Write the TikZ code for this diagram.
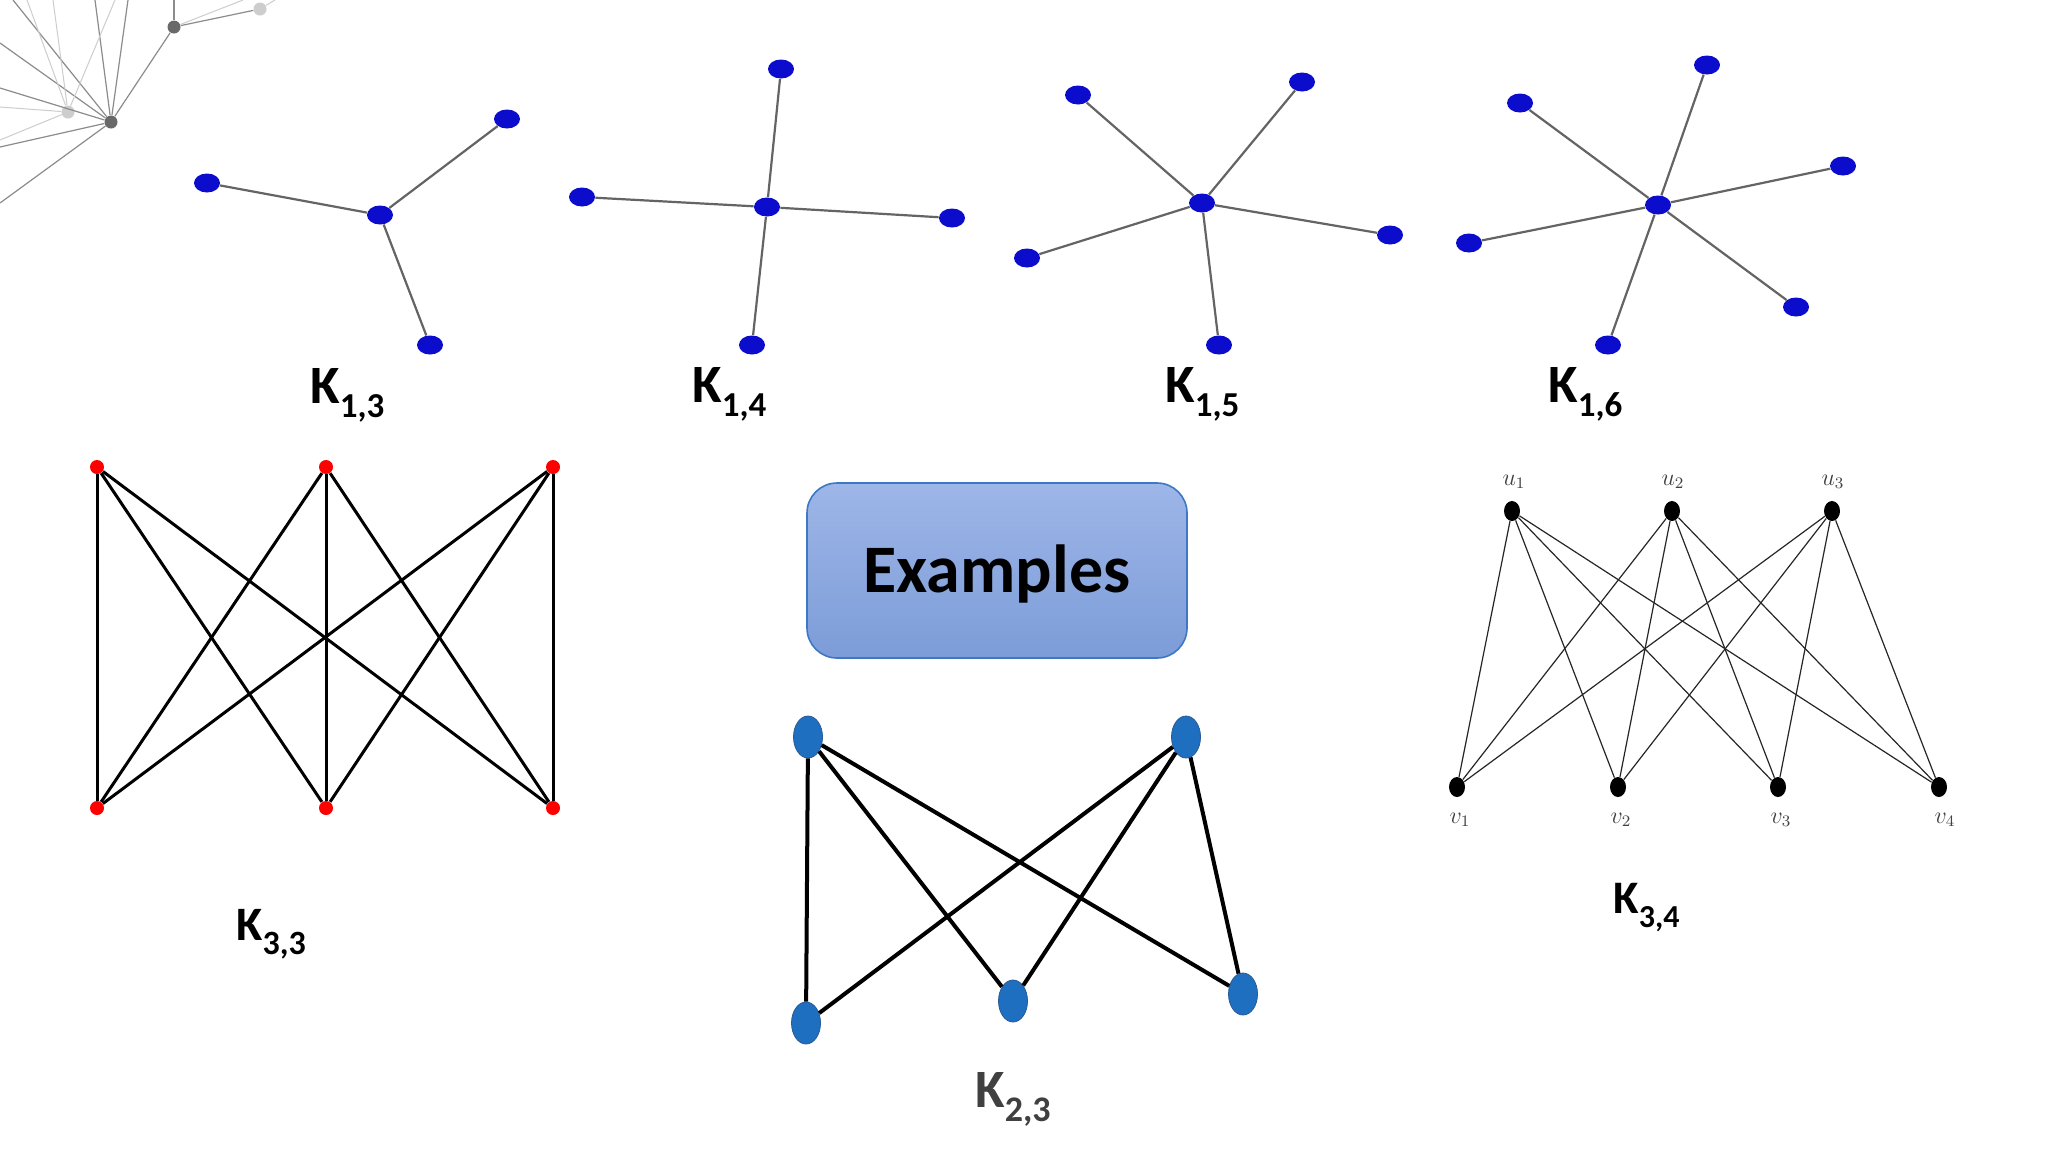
\documentclass[tikz,border=0pt]{standalone}
\usepackage{fontspec}
\setmainfont{Carlito}
\usetikzlibrary{shapes.geometric}
\definecolor{starblue}{RGB}{12,12,205}
\definecolor{edgegray}{RGB}{100,100,100}
\definecolor{kblue}{RGB}{31,111,192}
\definecolor{kblueborder}{RGB}{40,90,150}
\definecolor{boxtop}{RGB}{158,182,232}
\definecolor{boxbot}{RGB}{124,156,216}
\definecolor{boxborder}{RGB}{62,120,196}
\definecolor{netdark}{RGB}{105,105,105}
\definecolor{netlight}{RGB}{205,205,205}
\definecolor{netline}{RGB}{140,140,140}
\definecolor{netfaint}{RGB}{205,205,205}
\newcommand{\Klab}[4]{\fontsize{#1}{#1}\selectfont K\raisebox{-#4}{\fontsize{#2}{#2}\selectfont #3}}
\tikzset{
  starnode/.style={ellipse, fill=starblue, inner sep=0pt, minimum width=13pt, minimum height=9.5pt},
  staredge/.style={draw=edgegray, line width=1.1pt},
  rednode/.style={circle, fill=red, inner sep=0pt, minimum size=7pt},
  kthreeedge/.style={draw=black, line width=1.5pt},
  bluenode/.style={ellipse, fill=kblue, draw=kblueborder, line width=0.4pt, inner sep=0pt, minimum width=14.5pt, minimum height=21pt},
  ktwoedge/.style={draw=black, line width=2pt},
  blacknode/.style={ellipse, fill=black, inner sep=0pt, minimum width=8pt, minimum height=10pt},
  kfouredge/.style={draw=black!85, line width=0.6pt},
  vlabel/.style={font=\fontsize{11.5}{12}\selectfont, text=black!75, inner sep=0pt},
  klab/.style={anchor=base west, inner sep=0pt, font=\bfseries},
  exbox/.style={rounded corners=15pt, top color=boxtop, bottom color=boxbot, draw=boxborder, line width=0.8pt,
    minimum width=190pt, minimum height=87.5pt, inner sep=0pt,
    font=\fontsize{34}{40}\selectfont\bfseries, text height=22pt, text depth=0pt},
  netnodedark/.style={circle, fill=netdark, inner sep=0pt, minimum size=6.5pt},
  netnodelight/.style={circle, fill=netlight, inner sep=0pt, minimum size=6.5pt},
  netedge/.style={draw=netline, line width=0.6pt},
  netedgefaint/.style={draw=netfaint, line width=0.5pt}
}
\begin{document}
\begin{tikzpicture}[x=0.5pt, y=-0.5pt]
\useasboundingbox (0,0) rectangle (2048,1152);
\fill[white] (0,0) rectangle (2048,1152);

% ---- grey network fragment (top-left) ----
\node[netnodedark] (nA) at (111,122) {};
\node[netnodedark] (nB) at (174,27) {};
\node[netnodelight] (nC) at (68,112) {};
\node[netnodelight] (nD) at (260,9) {};
\coordinate (e1) at (0,203);
\coordinate (e2) at (0,147);
\coordinate (e3) at (0,88);
\coordinate (e4) at (0,43);
\coordinate (e5) at (13,0);
\coordinate (e6) at (95,0);
\coordinate (e7) at (128,0);
\coordinate (e8) at (174,0);
\coordinate (e9) at (243,0);
\coordinate (f1) at (0,107);
\coordinate (f2) at (53,0);
\coordinate (f3) at (115,0);
\coordinate (f4) at (27,0);
\coordinate (f5) at (0,140);
\coordinate (f6) at (275,0);
\foreach \e in {e1,e2,e3,e4,e5,e6,e7} \draw[netedge] (nA) -- (\e);
\draw[netedge] (nA) -- (nB);
\draw[netedge] (nB) -- (e8);
\draw[netedge] (nB) -- (nD);
\draw[netedgefaint] (nB) -- (e9);
\foreach \e in {f1,f2,f3,f4,f5} \draw[netedgefaint] (nC) -- (\e);
\draw[netedgefaint] (nD) -- (f6);

% ---- K1,3 ----
\node[starnode] (c13) at (380,215) {};
\node[starnode] (a13) at (207,183) {};
\node[starnode] (b13) at (507,119) {};
\node[starnode] (d13) at (430,345) {};
\foreach \n in {a13,b13,d13} \draw[staredge] (c13) -- (\n);
\node[klab] (l13) at (310,403) {\Klab{27}{17.5}{1,3}{7pt}};

% ---- K1,4 ----
\node[starnode] (c14) at (767,207) {};
\node[starnode] (a14) at (781,69) {};
\node[starnode] (b14) at (582,197) {};
\node[starnode] (d14) at (952,218) {};
\node[starnode] (g14) at (752,345) {};
\foreach \n in {a14,b14,d14,g14} \draw[staredge] (c14) -- (\n);
\node[klab] (l14) at (692,402) {\Klab{27}{17.5}{1,4}{7pt}};

% ---- K1,5 ----
\node[starnode] (c15) at (1202,203) {};
\node[starnode] (a15) at (1078,95) {};
\node[starnode] (b15) at (1302,82) {};
\node[starnode] (d15) at (1390,235) {};
\node[starnode] (g15) at (1027,258) {};
\node[starnode] (h15) at (1219,345) {};
\foreach \n in {a15,b15,d15,g15,h15} \draw[staredge] (c15) -- (\n);
\node[klab] (l15) at (1165,402) {\Klab{27}{17.5}{1,5}{7pt}};

% ---- K1,6 ----
\node[starnode] (c16) at (1658,205) {};
\node[starnode] (a16) at (1707,65) {};
\node[starnode] (b16) at (1520,103) {};
\node[starnode] (d16) at (1843,166) {};
\node[starnode] (g16) at (1469,243) {};
\node[starnode] (h16) at (1796,307) {};
\node[starnode] (i16) at (1608,345) {};
\foreach \n in {a16,b16,d16,g16,h16,i16} \draw[staredge] (c16) -- (\n);
\node[klab] (l16) at (1548,402) {\Klab{27}{17.5}{1,6}{7pt}};

% ---- K3,3 ----
\node[rednode] (t1) at (97,467) {};
\node[rednode] (t2) at (326,467) {};
\node[rednode] (t3) at (553,467) {};
\node[rednode] (s1) at (97,808) {};
\node[rednode] (s2) at (326,808) {};
\node[rednode] (s3) at (553,808) {};
\foreach \t in {t1,t2,t3} \foreach \s in {s1,s2,s3} \draw[kthreeedge] (\t) -- (\s);
\node[klab] (l33) at (236,940) {\Klab{24}{17}{3,3}{7pt}};

% ---- Examples box ----
\node[exbox] (ex) at (997,570.5) {Examples};

% ---- K2,3 ----
\node[bluenode] (p1) at (808,737) {};
\node[bluenode] (p2) at (1186,737) {};
\node[bluenode] (q1) at (806,1023) {};
\node[bluenode] (q2) at (1013,1001) {};
\node[bluenode] (q3) at (1243,994) {};
\foreach \p in {p1,p2} \foreach \q in {q1,q2,q3} \draw[ktwoedge] (\p) -- (\q);
\node[klab, text=black!75] (l23) at (975,1107) {\Klab{27}{18}{2,3}{7pt}};

% ---- K3,4 ----
\node[blacknode] (u1) at (1512,511) {};
\node[blacknode] (u2) at (1672,511) {};
\node[blacknode] (u3) at (1832,511) {};
\node[blacknode] (v1) at (1457,787) {};
\node[blacknode] (v2) at (1618,787) {};
\node[blacknode] (v3) at (1778,787) {};
\node[blacknode] (v4) at (1939,787) {};
\foreach \u in {u1,u2,u3} \foreach \v in {v1,v2,v3,v4} \draw[kfouredge] (\u) -- (\v);
\node[vlabel] (lu1) at (1514,482) {$u_1$};
\node[vlabel] (lu2) at (1673,482) {$u_2$};
\node[vlabel] (lu3) at (1833,482) {$u_3$};
\node[vlabel] (lv1) at (1460,820) {$v_1$};
\node[vlabel] (lv2) at (1621,820) {$v_2$};
\node[vlabel] (lv3) at (1781,820) {$v_3$};
\node[vlabel] (lv4) at (1945,820) {$v_4$};
\node[klab] (l34) at (1613,913) {\Klab{23.3}{16}{3,4}{7pt}};
\end{tikzpicture}
\end{document}
